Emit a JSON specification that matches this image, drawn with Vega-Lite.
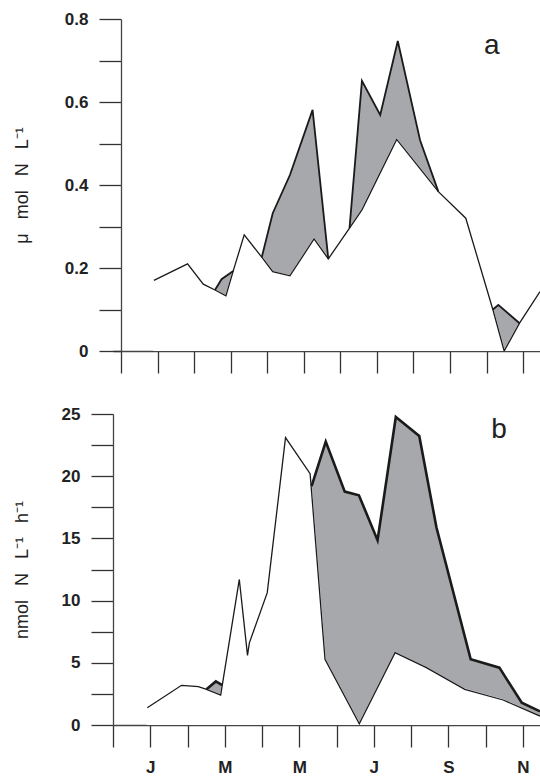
{
  "$schema": "https://vega.github.io/schema/vega-lite/v6.json",
  "padding": {"left": 13, "top": 10, "right": 0, "bottom": 0},
  "background": "white",
  "config": {
    "view": {"stroke": null},
    "axis": {"grid": false, "domainColor": "#444", "tickColor": "#333", "domainWidth": 1.3, "tickWidth": 1.3, "labelFont": "Liberation Sans", "labelFontWeight": "bold", "labelFontSize": 17, "labelColor": "#222", "titleFont": "Liberation Sans", "titleFontWeight": "normal", "titleFontSize": 18, "titleColor": "#222", "zindex": 1, "labelOverlap": false, "labelFlush": false}
  },
  "data": {"values": [
    {"p": "a", "s": "t", "label": "a"},
    {"p": "b", "s": "t", "label": "b"},
    {"p": "a", "s": "u", "m": 0.90, "v": 0.170},
    {"p": "a", "s": "u", "m": 1.82, "v": 0.210},
    {"p": "a", "s": "u", "m": 2.25, "v": 0.161},
    {"p": "a", "s": "u", "m": 2.57, "v": 0.147, "g": 1},
    {"p": "a", "s": "u", "m": 2.75, "v": 0.173, "g": 1},
    {"p": "a", "s": "u", "m": 3.07, "v": 0.193, "g": 1},
    {"p": "a", "s": "u", "m": 3.37, "v": 0.280},
    {"p": "a", "s": "u", "m": 3.85, "v": 0.226, "g": 2},
    {"p": "a", "s": "u", "m": 4.15, "v": 0.332, "g": 2},
    {"p": "a", "s": "u", "m": 4.62, "v": 0.424, "g": 2},
    {"p": "a", "s": "u", "m": 5.24, "v": 0.581, "g": 2},
    {"p": "a", "s": "u", "m": 5.67, "v": 0.222, "g": 2},
    {"p": "a", "s": "u", "m": 6.25, "v": 0.296, "g": 3},
    {"p": "a", "s": "u", "m": 6.59, "v": 0.651, "g": 3},
    {"p": "a", "s": "u", "m": 7.09, "v": 0.569, "g": 3},
    {"p": "a", "s": "u", "m": 7.57, "v": 0.747, "g": 3},
    {"p": "a", "s": "u", "m": 8.18, "v": 0.508, "g": 3},
    {"p": "a", "s": "u", "m": 8.68, "v": 0.384, "g": 3},
    {"p": "a", "s": "u", "m": 9.43, "v": 0.320},
    {"p": "a", "s": "u", "m": 10.17, "v": 0.100, "g": 4},
    {"p": "a", "s": "u", "m": 10.32, "v": 0.111, "g": 4},
    {"p": "a", "s": "u", "m": 10.90, "v": 0.067, "g": 4},
    {"p": "a", "s": "u", "m": 11.46, "v": 0.143},
    {"p": "a", "s": "l", "m": 0.90, "v": 0.170},
    {"p": "a", "s": "l", "m": 1.82, "v": 0.210},
    {"p": "a", "s": "l", "m": 2.25, "v": 0.161},
    {"p": "a", "s": "l", "m": 2.57, "v": 0.147},
    {"p": "a", "s": "l", "m": 2.87, "v": 0.133},
    {"p": "a", "s": "l", "m": 3.07, "v": 0.193},
    {"p": "a", "s": "l", "m": 3.37, "v": 0.280},
    {"p": "a", "s": "l", "m": 3.85, "v": 0.226},
    {"p": "a", "s": "l", "m": 4.15, "v": 0.191},
    {"p": "a", "s": "l", "m": 4.62, "v": 0.181},
    {"p": "a", "s": "l", "m": 5.28, "v": 0.270},
    {"p": "a", "s": "l", "m": 5.67, "v": 0.222},
    {"p": "a", "s": "l", "m": 6.25, "v": 0.296},
    {"p": "a", "s": "l", "m": 6.59, "v": 0.340},
    {"p": "a", "s": "l", "m": 7.54, "v": 0.510},
    {"p": "a", "s": "l", "m": 8.68, "v": 0.384},
    {"p": "a", "s": "l", "m": 9.43, "v": 0.320},
    {"p": "a", "s": "l", "m": 10.17, "v": 0.100},
    {"p": "a", "s": "l", "m": 10.48, "v": 0.0},
    {"p": "a", "s": "l", "m": 10.90, "v": 0.067},
    {"p": "a", "s": "l", "m": 11.46, "v": 0.143},
    {"p": "b", "s": "u", "m": 0.92, "v": 1.39},
    {"p": "b", "s": "u", "m": 1.84, "v": 3.19},
    {"p": "b", "s": "u", "m": 2.29, "v": 3.08},
    {"p": "b", "s": "u", "m": 2.51, "v": 2.87, "g": 1},
    {"p": "b", "s": "u", "m": 2.76, "v": 3.50, "g": 1},
    {"p": "b", "s": "u", "m": 2.93, "v": 3.20, "g": 1},
    {"p": "b", "s": "u", "m": 3.39, "v": 11.7},
    {"p": "b", "s": "u", "m": 3.61, "v": 5.6},
    {"p": "b", "s": "u", "m": 3.66, "v": 6.6},
    {"p": "b", "s": "u", "m": 4.14, "v": 10.64},
    {"p": "b", "s": "u", "m": 4.63, "v": 23.1},
    {"p": "b", "s": "u", "m": 5.29, "v": 20.2},
    {"p": "b", "s": "u", "m": 5.33, "v": 19.2, "g": 2},
    {"p": "b", "s": "u", "m": 5.71, "v": 22.78, "g": 2},
    {"p": "b", "s": "u", "m": 6.22, "v": 18.76, "g": 2},
    {"p": "b", "s": "u", "m": 6.60, "v": 18.47, "g": 2},
    {"p": "b", "s": "u", "m": 7.10, "v": 14.85, "g": 2},
    {"p": "b", "s": "u", "m": 7.59, "v": 24.76, "g": 2},
    {"p": "b", "s": "u", "m": 8.22, "v": 23.23, "g": 2},
    {"p": "b", "s": "u", "m": 8.68, "v": 15.9, "g": 2},
    {"p": "b", "s": "u", "m": 9.60, "v": 5.28, "g": 2},
    {"p": "b", "s": "u", "m": 10.37, "v": 4.61, "g": 2},
    {"p": "b", "s": "u", "m": 10.97, "v": 1.79, "g": 2},
    {"p": "b", "s": "u", "m": 11.46, "v": 1.1, "g": 2},
    {"p": "b", "s": "l", "m": 0.92, "v": 1.39},
    {"p": "b", "s": "l", "m": 1.84, "v": 3.19},
    {"p": "b", "s": "l", "m": 2.29, "v": 3.08},
    {"p": "b", "s": "l", "m": 2.51, "v": 2.87},
    {"p": "b", "s": "l", "m": 2.89, "v": 2.40},
    {"p": "b", "s": "l", "m": 3.39, "v": 11.7},
    {"p": "b", "s": "l", "m": 3.61, "v": 5.6},
    {"p": "b", "s": "l", "m": 3.66, "v": 6.6},
    {"p": "b", "s": "l", "m": 4.14, "v": 10.64},
    {"p": "b", "s": "l", "m": 4.63, "v": 23.1},
    {"p": "b", "s": "l", "m": 5.29, "v": 20.2},
    {"p": "b", "s": "l", "m": 5.69, "v": 5.28},
    {"p": "b", "s": "l", "m": 6.61, "v": 0.10},
    {"p": "b", "s": "l", "m": 7.57, "v": 5.81},
    {"p": "b", "s": "l", "m": 8.41, "v": 4.61},
    {"p": "b", "s": "l", "m": 9.44, "v": 2.87},
    {"p": "b", "s": "l", "m": 10.47, "v": 2.01},
    {"p": "b", "s": "l", "m": 11.46, "v": 0.72}
  ]},
  "spacing": 31,
  "vconcat": [
    {
      "width": 427,
      "height": 332,
      "layer": [
        {"transform": [{"filter": "datum.p=='a' && datum.s=='u'"}], "mark": {"type": "area", "color": "#a7a8ab", "clip": true},
          "encoding": {
            "x": {"field": "m", "type": "quantitative", "scale": {"domain": [-0.2189, 11.46], "nice": false, "zero": false},
              "axis": {"values": [0,1,2,3,4,5,6,7,8,9,10,11], "tickCount": 12, "labels": false, "tickSize": 22, "title": null,
                "encode": {"domain": {"update": {"x": {"value": 8}}}}}},
            "y": {"field": "v", "type": "quantitative", "scale": {"domain": [0, 0.8], "nice": false},
              "axis": {"values": [0,0.1,0.2,0.3,0.4,0.5,0.6,0.7,0.8], "tickCount": 9, "offset": -8, "tickSize": 22,
                "encode": {"ticks": {"update": {"x2": [{"test": "round(datum.value*10)%2==1", "value": -11}, {"value": -22}]}}},
                "labelExpr": "round(datum.value*10)%2==1 ? '' : (datum.value==0 ? '0' : format(datum.value,'.1f'))",
                "labelPadding": 11, "title": "μ \u2002mol \u2002N \u2002L⁻¹", "titlePadding": 33}}
          }},
        {"transform": [{"filter": "datum.p=='a' && datum.s=='l'"}], "mark": {"type": "area", "color": "white", "stroke": "white", "strokeWidth": 1.5, "clip": true},
          "encoding": {"x": {"field": "m", "type": "quantitative"}, "y": {"field": "v", "type": "quantitative"}}},
        {"transform": [{"filter": "datum.p=='a' && datum.s=='l'"}], "mark": {"type": "line", "color": "#1a1a1a", "strokeWidth": 1.3, "clip": true},
          "encoding": {"x": {"field": "m", "type": "quantitative"}, "y": {"field": "v", "type": "quantitative"}}},
        {"transform": [{"filter": "datum.p=='a' && datum.s=='u' && isValid(datum.g)"}], "mark": {"type": "line", "color": "#1a1a1a", "strokeWidth": 1.8, "clip": true},
          "encoding": {"x": {"field": "m", "type": "quantitative"}, "y": {"field": "v", "type": "quantitative"}, "detail": {"field": "g"}}},
        {"transform": [{"filter": "datum.p=='a' && datum.s=='t'"}], "mark": {"type": "text", "font": "Liberation Sans", "fontSize": 28, "fill": "#222", "align": "center", "baseline": "alphabetic"},
          "encoding": {"x": {"datum": 10.14, "type": "quantitative"}, "y": {"datum": 0.716, "type": "quantitative"}, "text": {"field": "label", "type": "nominal"}}}
      ]
    },
    {
      "width": 427,
      "height": 311,
      "layer": [
        {"transform": [{"filter": "datum.p=='b' && datum.s=='u'"}], "mark": {"type": "area", "color": "#a7a8ab", "clip": true},
          "encoding": {
            "x": {"field": "m", "type": "quantitative", "scale": {"domain": [0, 11.46], "nice": false, "zero": false},
              "axis": {"values": [0,1,2,3,4,5,6,7,8,9,10,11], "tickCount": 12, "tickSize": 22, "title": null, "labelPadding": 12,
                "labelExpr": "['','J','','M','','M','','J','','S','','N'][datum.value]"}},
            "y": {"field": "v", "type": "quantitative", "scale": {"domain": [0, 25], "nice": false},
              "axis": {"values": [0,2.5,5,7.5,10,12.5,15,17.5,20,22.5,25], "tickCount": 11, "tickSize": 22,
                "encode": {"ticks": {"update": {"x2": [{"test": "datum.value%5!=0", "value": -11}, {"value": -22}]}}},
                "labelExpr": "datum.value%5!=0 ? '' : datum.label",
                "labelPadding": 11, "title": "nmol \u2002N \u2002L⁻¹ \u2002h⁻¹", "titlePadding": 30}}
          }},
        {"transform": [{"filter": "datum.p=='b' && datum.s=='l'"}], "mark": {"type": "area", "color": "white", "stroke": "white", "strokeWidth": 1.5, "clip": true},
          "encoding": {"x": {"field": "m", "type": "quantitative"}, "y": {"field": "v", "type": "quantitative"}}},
        {"transform": [{"filter": "datum.p=='b' && datum.s=='l'"}], "mark": {"type": "line", "color": "#1a1a1a", "strokeWidth": 1.3, "clip": true},
          "encoding": {"x": {"field": "m", "type": "quantitative"}, "y": {"field": "v", "type": "quantitative"}}},
        {"transform": [{"filter": "datum.p=='b' && datum.s=='u' && isValid(datum.g)"}], "mark": {"type": "line", "color": "#1a1a1a", "strokeWidth": 2.6, "clip": true},
          "encoding": {"x": {"field": "m", "type": "quantitative"}, "y": {"field": "v", "type": "quantitative"}, "detail": {"field": "g"}}},
        {"transform": [{"filter": "datum.p=='b' && datum.s=='t'"}], "mark": {"type": "text", "font": "Liberation Sans", "fontSize": 28, "fill": "#222", "align": "center", "baseline": "alphabetic"},
          "encoding": {"x": {"datum": 10.36, "type": "quantitative"}, "y": {"datum": 23.1, "type": "quantitative"}, "text": {"field": "label", "type": "nominal"}}}
      ]
    }
  ]
}
